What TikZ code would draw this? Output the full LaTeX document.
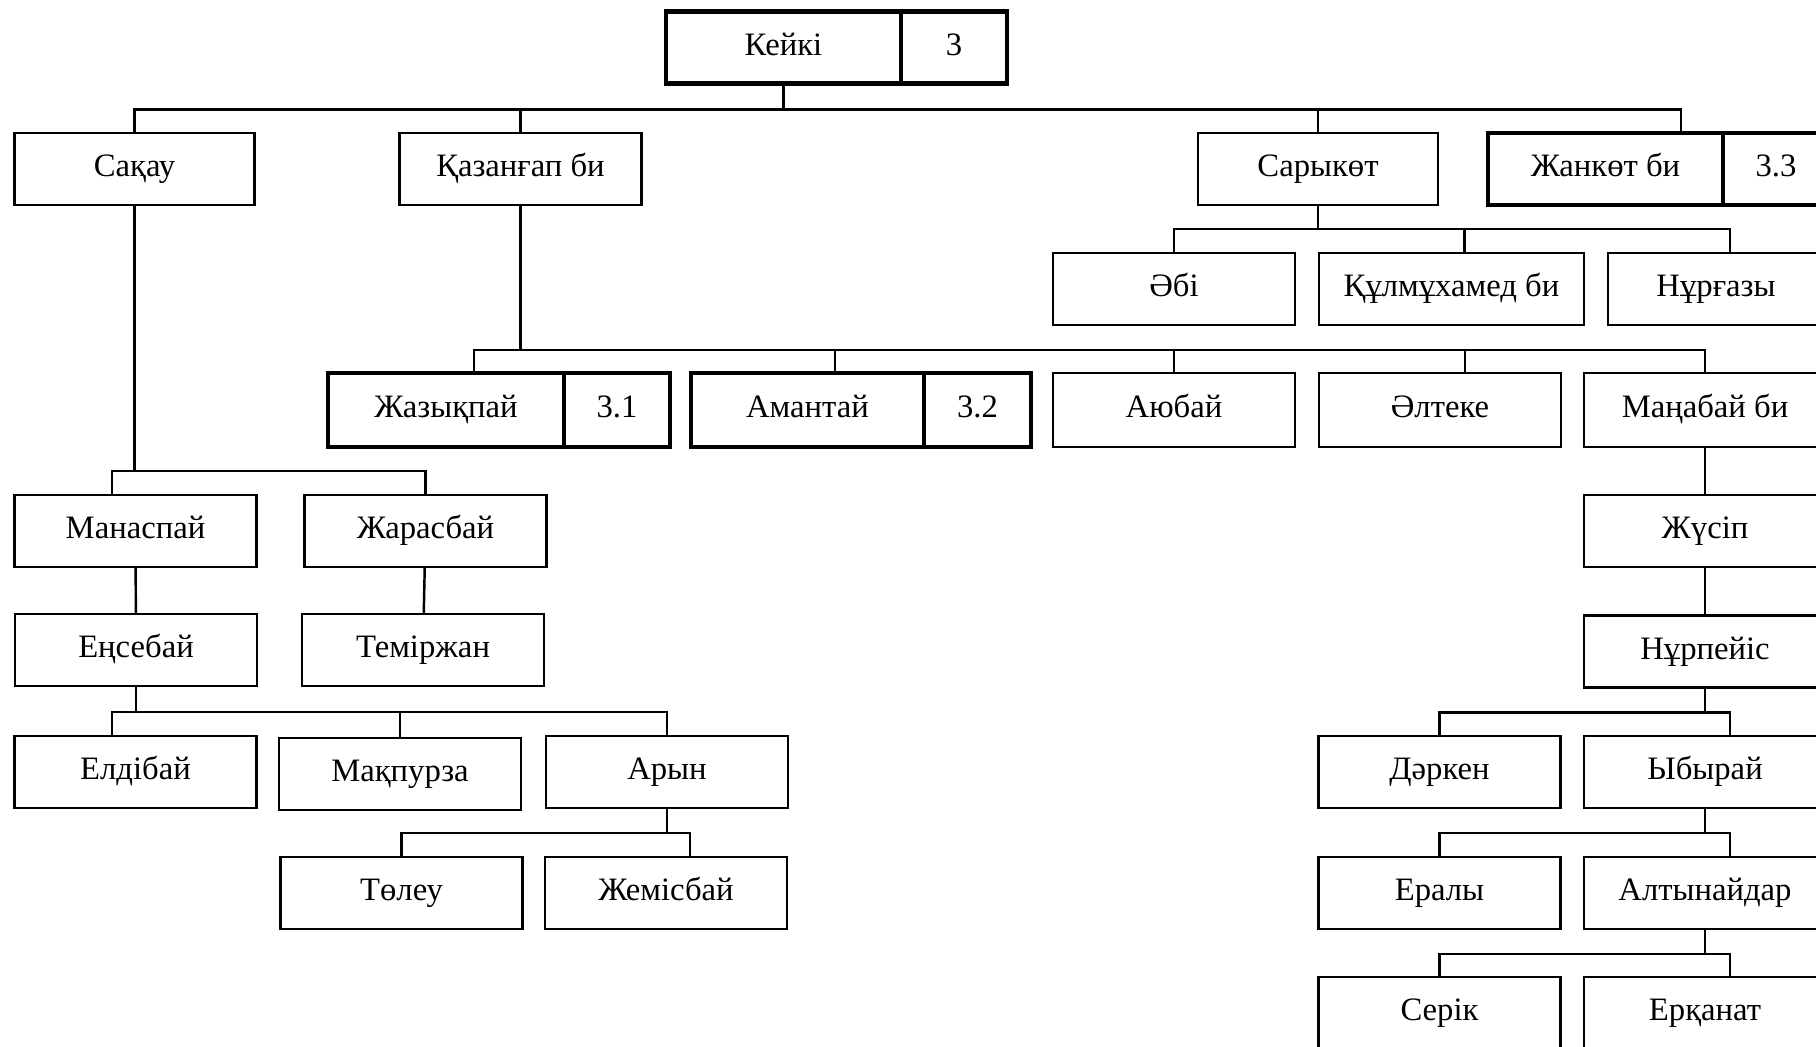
\documentclass[tikz,border=0pt]{standalone}
\usepackage{fontspec}
\setmainfont{Liberation Serif}
\usetikzlibrary{positioning}

\begin{document}
\begin{tikzpicture}[x=0.1mm,y=-0.1mm,font=\fontsize{9.3pt}{11pt}\selectfont,
  link/.style={line width=0.7pt},
  person/.style={draw,line width=0.7pt,minimum width=24.2mm,minimum height=7.2mm,
    inner sep=0pt,outer sep=0pt,text height=0.7em,text depth=0.25em},
  elder/.style={person,line width=1.2pt},
  elder num/.style={elder,minimum width=10.6mm,right=0pt of #1}]
  \useasboundingbox (0,0) rectangle (1816,1046);
  \clip (0,0) rectangle (1816,1046);

  % root and first generation
  \node[elder,minimum width=23.5mm] (keyki) at (783.5,47.5) {Кейкі};
  \node[elder num=keyki] (keyki-n) {3};
  \node[person,minimum width=24mm] (sakau) at (134.5,169) {Сақау};
  \node[person] (kazangap) at (520.5,169) {Қазанғап би};
  \node[person,minimum width=24mm] (sarykot) at (1318,169) {Сарыкөт};
  \node[elder,minimum width=23.5mm] (zhankot) at (1605.5,169) {Жанкөт би};
  \node[elder num=zhankot] (zhankot-n) {3.3};

  % sons of Сарыкөт
  \node[person] (abi) at (1174,289) {Әбі};
  \node[person,minimum width=26.5mm] (kulmukhamed) at (1451.5,289) {Құлмұхамед би};
  \node[person,minimum width=21.6mm] (nurgazy) at (1716,289) {Нұрғазы};

  % sons of Қазанғап би
  \node[elder,minimum width=23.6mm,minimum height=7.4mm] (zhazykpai) at (446,410) {Жазықпай};
  \node[elder num=zhazykpai,minimum height=7.4mm] (zhazykpai-n) {3.1};
  \node[elder,minimum width=23.3mm,minimum height=7.4mm] (amantai) at (807.5,410) {Амантай};
  \node[elder num=amantai,minimum width=10.7mm,minimum height=7.4mm] (amantai-n) {3.2};
  \node[person,minimum height=7.4mm] (ayubai) at (1174,410) {Аюбай};
  \node[person,minimum height=7.4mm] (alteke) at (1440,410) {Әлтеке};
  \node[person,minimum height=7.4mm] (manabai) at (1705,410) {Маңабай би};

  % line of Сақау
  \node[person] (manaspai) at (135.5,531) {Манаспай};
  \node[person] (zharasbai) at (425.5,531) {Жарасбай};
  \node[person] (ensebai) at (136,650) {Еңсебай};
  \node[person] (temirzhan) at (423,650) {Теміржан};
  \node[person] (eldibai) at (135.5,772) {Елдібай};
  \node[person] (makpurza) at (400,774) {Мақпурза};
  \node[person] (aryn) at (667,772) {Арын};
  \node[person] (toleu) at (401.5,893) {Төлеу};
  \node[person] (zhemisbai) at (666,893) {Жемісбай};

  % line of Маңабай би
  \node[person] (zhusip) at (1705,531) {Жүсіп};
  \node[person] (nurpeis) at (1705,651.5) {Нұрпейіс};
  \node[person] (darken) at (1439.5,772) {Дәркен};
  \node[person] (ybyrai) at (1705,772) {Ыбырай};
  \node[person] (eraly) at (1439.5,893) {Ералы};
  \node[person] (altynaidar) at (1705,893) {Алтынайдар};
  \node[person] (serik) at (1439.5,1013) {Серік};
  \node[person] (erkanat) at (1705,1013) {Ерқанат};

  % connectors
  \draw[link] (keyki.south) -- ++(0,26) coordinate (bus-keyki);
  \draw[link] (sakau.north) |- (bus-keyki) -| ([xshift=7.55mm]zhankot.north);
  \foreach \n in {kazangap,sarykot}
    \draw[link] (\n.north) -- (\n.north |- bus-keyki);

  \draw[link] (sarykot.south) -- ++(0,24) coordinate (bus-sarykot);
  \draw[link] (abi.north) |- (bus-sarykot) -| ([xshift=1.4mm]nurgazy.north);
  \draw[link] ([xshift=1.3mm]kulmukhamed.north) -- ([xshift=1.3mm]kulmukhamed.north |- bus-sarykot);

  \draw[link] (kazangap.south) -- ++(0,145) coordinate (bus-kazangap);
  \draw[link] ([xshift=2.8mm]zhazykpai.north) |- (bus-kazangap) -| (manabai.north);
  \draw[link] ([xshift=2.75mm]amantai.north) -- ([xshift=2.75mm]amantai.north |- bus-kazangap);
  \draw[link] (ayubai.north) -- (ayubai.north |- bus-kazangap);
  \draw[link] ([xshift=2.5mm]alteke.north) -- ([xshift=2.5mm]alteke.north |- bus-kazangap);

  \draw[link] (sakau.south) -- ++(0,266) coordinate (bus-sakau);
  \draw[link] ([xshift=-2.35mm]manaspai.north) |- (bus-sakau) -| (zharasbai.north);
  \draw[link] (manaspai) -- (ensebai);
  \draw[link] (zharasbai) -- (temirzhan);

  \draw[link] (ensebai.south) -- ++(0,26) coordinate (bus-ensebai);
  \draw[link] ([xshift=-2.35mm]eldibai.north) |- (bus-ensebai) -| (aryn.north);
  \draw[link] (makpurza.north) -- (makpurza.north |- bus-ensebai);

  \draw[link] (aryn.south) -- ++(0,25) coordinate (bus-aryn);
  \draw[link] (toleu.north) |- (bus-aryn) -| ([xshift=2.4mm]zhemisbai.north);

  \draw[link] (manabai) -- (zhusip);
  \draw[link] (zhusip) -- (nurpeis);
  \foreach \p/\a/\b in {nurpeis/darken/ybyrai,ybyrai/eraly/altynaidar,altynaidar/serik/erkanat} {
    \draw[link] (\p.south) -- ++(0,25) coordinate (bus-\p);
    \draw[link] (\a.north) |- (bus-\p) -| ([xshift=2.5mm]\b.north);
  }
\end{tikzpicture}
\end{document}
